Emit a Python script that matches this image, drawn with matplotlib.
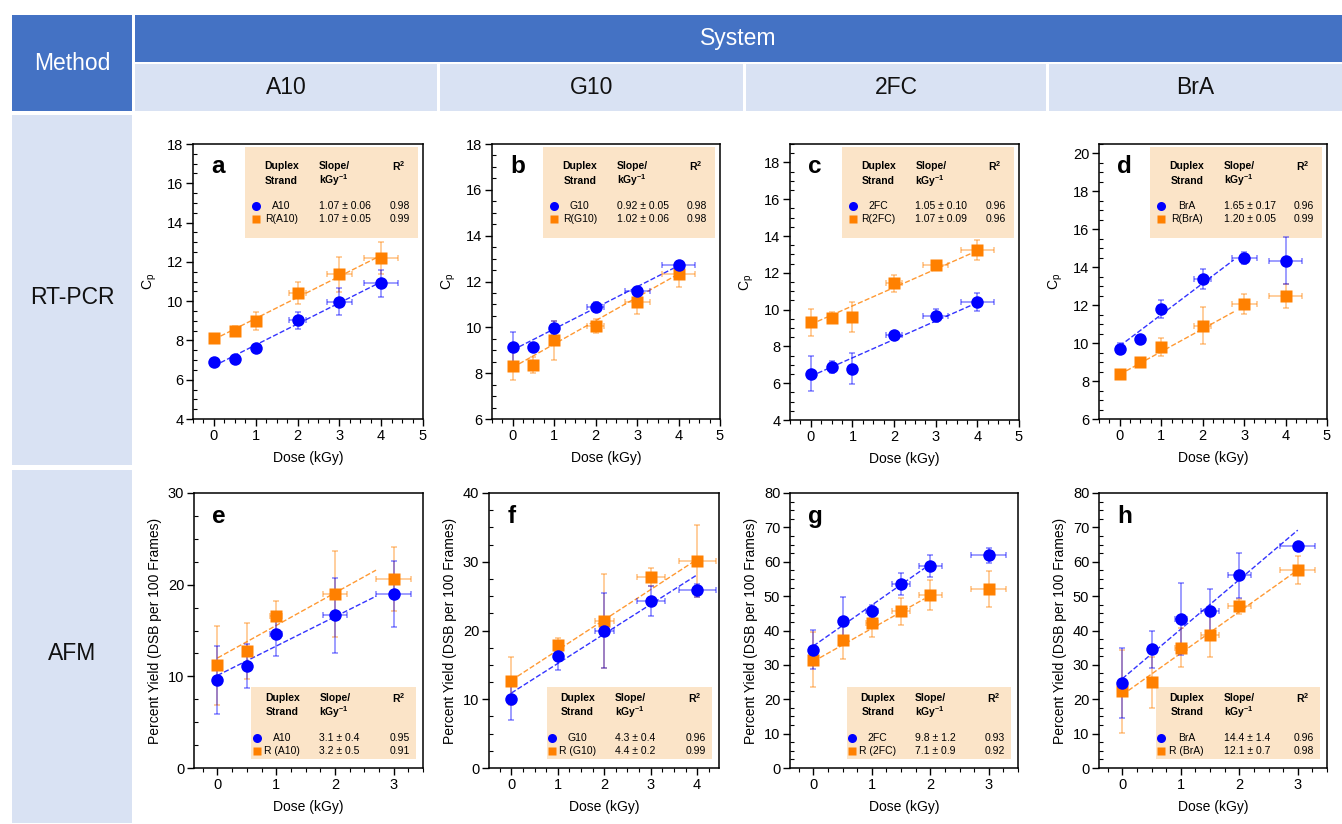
import numpy as np
import matplotlib
matplotlib.use("Agg")
import matplotlib.pyplot as plt
from matplotlib.patches import Rectangle
from matplotlib.ticker import MultipleLocator, AutoMinorLocator

plt.rcParams['font.family'] = ['Liberation Sans', 'DejaVu Sans']
plt.rcParams['mathtext.fontset'] = 'custom'
plt.rcParams['mathtext.rm'] = 'Liberation Sans'
plt.rcParams['mathtext.bf'] = 'Liberation Sans:bold'
plt.rcParams['mathtext.it'] = 'Liberation Sans:italic'

# ---- data ----
systems = ["A10", "G10", "2FC", "BrA"]
methods = ["RT-PCR", "AFM"]

# RT-PCR (Cp vs dose)
dose_rt = [0, 0.5, 1, 2, 3, 4]
xerr_rt = [0, 0, 0, 0.2, 0.3, 0.4]
a_blue = [6.88, 7.04, 7.60, 9.02, 9.97, 10.90]
a_blue_err = [0, 0, 0, 0.45, 0.68, 0.70]
a_orange = [8.10, 8.48, 8.99, 10.43, 11.36, 12.21]
a_orange_err = [0, 0.25, 0.48, 0.57, 0.87, 0.82]
b_blue = [9.13, 9.13, 9.96, 10.89, 11.60, 12.71]
b_blue_err = [0.65, 0, 0.30, 0.20, 0.10, 0.20]
b_orange = [8.31, 8.36, 9.43, 10.06, 11.10, 12.33]
b_orange_err = [0.60, 0.35, 0.85, 0.30, 0.50, 0.55]
c_blue = [6.52, 6.88, 6.79, 8.60, 9.66, 10.40]
c_blue_err = [0.95, 0.30, 0.83, 0.15, 0.36, 0.50]
c_orange = [9.30, 9.55, 9.60, 11.42, 12.40, 13.25]
c_orange_err = [0.73, 0.30, 0.82, 0.48, 0.10, 0.54]
d_blue = [9.71, 10.22, 11.80, 13.38, 14.50, 14.34]
d_blue_err = [0.30, 0, 0.47, 0.55, 0.32, 1.24]
d_orange = [8.35, 9.00, 9.81, 10.92, 12.06, 12.48]
d_orange_err = [0.15, 0, 0.48, 0.96, 0.54, 0.63]

# AFM (percent yield vs dose)
dose_e = [0, 0.5, 1, 2, 3]
xerr_e = [0, 0, 0.1, 0.2, 0.3]
e_blue = [9.56, 11.09, 14.62, 16.65, 18.98]
e_blue_err = [3.7, 2.4, 2.4, 4.1, 3.6]
e_orange = [11.2, 12.8, 16.58, 18.98, 20.65]
e_orange_err = [4.3, 3.05, 1.6, 4.7, 3.5]
dose_f = [0, 1, 2, 3, 4]
xerr_f = [0, 0.08, 0.2, 0.3, 0.4]
f_blue = [10.04, 16.30, 19.98, 24.24, 25.84]
f_blue_err = [3.1, 2.1, 5.5, 2.2, 0.97]
f_orange = [12.65, 17.84, 21.38, 27.78, 30.16]
f_orange_err = [3.5, 1.1, 6.9, 1.3, 5.25]
dose_gh = [0, 0.5, 1, 1.5, 2, 3]
xerr_gh = [0, 0, 0.1, 0.15, 0.2, 0.3]
g_blue = [34.42, 42.86, 45.58, 53.62, 58.76, 61.87]
g_blue_err = [5.6, 6.9, 1.9, 3.2, 3.1, 2.2]
g_orange = [31.5, 37.3, 42.2, 45.6, 50.4, 52.1]
g_orange_err = [8.0, 5.6, 4.2, 3.9, 4.4, 5.2]
h_blue = [24.73, 34.5, 43.35, 45.6, 56.05, 64.5]
h_blue_err = [10.2, 5.4, 10.4, 6.6, 6.6, 0]
h_orange = [22.3, 25.0, 35.0, 38.6, 47.0, 57.7]
h_orange_err = [12.1, 7.4, 5.7, 6.4, 2.3, 4.1]

# dashed fit lines as drawn: (intercept, slope) for blue / orange, and x end
fit_blue = [(6.70, 1.07), (9.01, 0.92), (6.38, 1.00), (9.85, 1.65),
            (10.1, 3.2), (10.9, 4.3), (35.5, 11.9), (26.0, 14.4)]
fit_orange = [(8.05, 1.07), (8.25, 1.02), (9.20, 1.00), (8.35, 1.20),
              (12.0, 3.55), (12.75, 4.4), (31.0, 9.6), (21.3, 12.1)]
fit_end = [4, 4, 4, 2.75, 2.7, 4, 1.9, 3]

# legend table text
tab_names = [("A10", "R(A10)"), ("G10", "R(G10)"), ("2FC", "R(2FC)"), ("BrA", "R(BrA)"),
             ("A10", "R (A10)"), ("G10", "R (G10)"), ("2FC", "R (2FC)"), ("BrA", "R (BrA)")]
tab_slopes = [("1.07 ± 0.06", "1.07 ± 0.05"), ("0.92 ± 0.05", "1.02 ± 0.06"),
              ("1.05 ± 0.10", "1.07 ± 0.09"), ("1.65 ± 0.17", "1.20 ± 0.05"),
              ("3.1 ± 0.4", "3.2 ± 0.5"), ("4.3 ± 0.4", "4.4 ± 0.2"),
              ("9.8 ± 1.2", "7.1 ± 0.9"), ("14.4 ± 1.4", "12.1 ± 0.7")]
tab_r2 = [("0.98", "0.99"), ("0.98", "0.98"), ("0.96", "0.96"), ("0.96", "0.99"),
          ("0.95", "0.91"), ("0.96", "0.99"), ("0.93", "0.92"), ("0.96", "0.98")]

letters = list("abcdefgh")
ylims = [(4, 18), (6, 18), (4, 19), (6, 20.5), (0, 30), (0, 40), (0, 80), (0, 80)]
yticks = [np.arange(4, 19, 2), np.arange(6, 19, 2), np.arange(4, 19, 2), np.arange(6, 21, 2),
          np.arange(0, 31, 10), np.arange(0, 41, 10), np.arange(0, 81, 10), np.arange(0, 81, 10)]
xlims = [(-0.5, 5)] * 4 + [(-0.4, 3.5), (-0.48, 4.47), (-0.4, 3.5), (-0.4, 3.5)]
xticks = [range(0, 6)] * 4 + [range(0, 4), range(0, 5), range(0, 4), range(0, 4)]

panels = [
    (dose_rt, xerr_rt, a_blue, a_blue_err, a_orange, a_orange_err),
    (dose_rt, xerr_rt, b_blue, b_blue_err, b_orange, b_orange_err),
    (dose_rt, xerr_rt, c_blue, c_blue_err, c_orange, c_orange_err),
    (dose_rt, xerr_rt, d_blue, d_blue_err, d_orange, d_orange_err),
    (dose_e, xerr_e, e_blue, e_blue_err, e_orange, e_orange_err),
    (dose_f, xerr_f, f_blue, f_blue_err, f_orange, f_orange_err),
    (dose_gh, xerr_gh, g_blue, g_blue_err, g_orange, g_orange_err),
    (dose_gh, xerr_gh, h_blue, h_blue_err, h_orange, h_orange_err),
]

# axes boxes in pixels (left, top, right, bottom)
ax_px = [(193, 144, 423, 419), (492, 144, 720, 419), (790, 144, 1019, 420), (1099, 144, 1327, 419),
         (194, 493, 423, 768), (489, 493, 719, 768), (790, 493, 1018, 768), (1099, 493, 1327, 768)]

BLUE = '#0000ff'
ORANGE = '#ff8000'
PEACH = '#fbe4c8'
DARK = '#4472c4'
LIGHT = '#d9e2f3'

W, H = 1342, 824
fig = plt.figure(figsize=(W / 100, H / 100), dpi=100)

# ---- table frame ----
bg = fig.add_axes([0, 0, 1, 1])
bg.set_xlim(0, W)
bg.set_ylim(H, 0)
bg.axis('off')


def cell(x0, y0, x1, y1, color, text=None, tcolor='#111111', ty=None):
    bg.add_patch(Rectangle((x0, y0), x1 - x0, y1 - y0, facecolor=color, edgecolor='none'))
    if text:
        bg.text((x0 + x1) / 2, ty if ty else (y0 + y1) / 2, text, color=tcolor,
                fontsize=16.5, ha='center', va='center')


cell(12, 15, 132, 111, DARK, "Method", 'white')
cell(135, 15, W, 62, DARK, "System", 'white')
col_x = [(135, 437), (440, 743), (746, 1046), (1049, W)]
for (x0, x1), name in zip(col_x, systems):
    cell(x0, 64, x1, 111, LIGHT, name)
cell(12, 115, 132, 465, LIGHT, methods[0], ty=297)
cell(12, 470, 132, 823, LIGHT, methods[1], ty=654)

# ---- panels ----
for i, (x, xe, yb, yeb, yo, yeo) in enumerate(panels):
    l, t, r, b = ax_px[i]
    ax = fig.add_axes([l / W, 1 - b / H, (r - l) / W, (b - t) / H])
    top = i < 4

    # legend table background
    if top:
        bx0, bx1, by0, by1 = 0.225, 0.98, 0.66, 0.99
        rows = [0.921, 0.867, 0.775, 0.727]
    else:
        bx0, bx1, by0, by1 = 0.25, 0.97, 0.033, 0.295
        rows = [0.253, 0.202, 0.109, 0.061]
    ax.add_patch(Rectangle((bx0, by0), bx1 - bx0, by1 - by0, transform=ax.transAxes,
                           facecolor=PEACH, edgecolor='none', zorder=0.5))

    # fit lines
    xf = np.array([0, fit_end[i]])
    ax.plot(xf, fit_blue[i][0] + fit_blue[i][1] * xf, ls='--', color=BLUE, lw=1, alpha=0.8, zorder=2)
    ax.plot(xf, fit_orange[i][0] + fit_orange[i][1] * xf, ls='--', color=ORANGE, lw=1, alpha=0.8, zorder=2)

    # error bars and markers
    for yy, ee, c, m in [(yo, yeo, ORANGE, 's'), (yb, yeb, BLUE, 'o')]:
        ax.errorbar(x, yy, yerr=ee, xerr=xe, fmt='none', ecolor=c, alpha=0.45,
                    elinewidth=1.2, capsize=2.5, capthick=1.2, zorder=3)
    ax.plot(x, yo, 's', color=ORANGE, ms=8, mec='none', zorder=4)
    ax.plot(x, yb, 'o', color=BLUE, ms=9, mec='none', zorder=5)

    ax.set_xlim(*xlims[i])
    ax.set_ylim(*ylims[i])
    ax.set_xticks(list(xticks[i]))
    ax.set_yticks(yticks[i])
    ax.xaxis.set_minor_locator(AutoMinorLocator(4))
    ax.yaxis.set_minor_locator(AutoMinorLocator(4))
    ax.tick_params(which='major', direction='out', length=5, width=1, labelsize=10.5, pad=2)
    ax.tick_params(axis='x', which='minor', direction='out', length=3, width=0.8)
    ax.tick_params(axis='y', which='minor', direction='in', length=3, width=0.8)
    for s in ax.spines.values():
        s.set_linewidth(1.1)

    ax.set_xlabel("Dose (kGy)", fontsize=10, labelpad=6)
    if top:
        ax.set_ylabel(r"C$_\mathregular{p}$", fontsize=10, labelpad=6)
    else:
        ax.set_ylabel("Percent Yield (DSB per 100 Frames)", fontsize=10, labelpad=4)

    ax.text(0.08, 0.89 if not top else 0.895, letters[i], transform=ax.transAxes,
            fontsize=17.5, fontweight='bold', va='baseline', ha='left', zorder=6)

    # table text
    kw = dict(transform=ax.transAxes, fontsize=7.5, zorder=6, va='center')
    ax.text(0.385, rows[0], "Duplex", ha='center', fontweight='bold', **kw)
    ax.text(0.385, rows[1], "Strand", ha='center', fontweight='bold', **kw)
    ax.text(0.548, rows[0], "Slope/", ha='left', fontweight='bold', **kw)
    ax.text(0.548, rows[1], r"kGy$^{\mathbf{-1}}$", ha='left', fontweight='bold', **kw)
    ax.text(0.865, rows[0], r"R$^{\mathbf{2}}$", ha='left', fontweight='bold', **kw)
    for k, (c, m) in enumerate([(BLUE, 'o'), (ORANGE, 's')]):
        yrow = rows[2 + k]
        ax.plot([0.274], [yrow], m, color=c, ms=6.5 if m == 'o' else 6, mec='none',
                transform=ax.transAxes, zorder=6, clip_on=False)
        ax.text(0.385, yrow, tab_names[i][k], ha='center', **kw)
        ax.text(0.548, yrow, tab_slopes[i][k], ha='left', **kw)
        ax.text(0.855, yrow, tab_r2[i][k], ha='left', **kw)

fig.savefig("out.png", dpi=100)
